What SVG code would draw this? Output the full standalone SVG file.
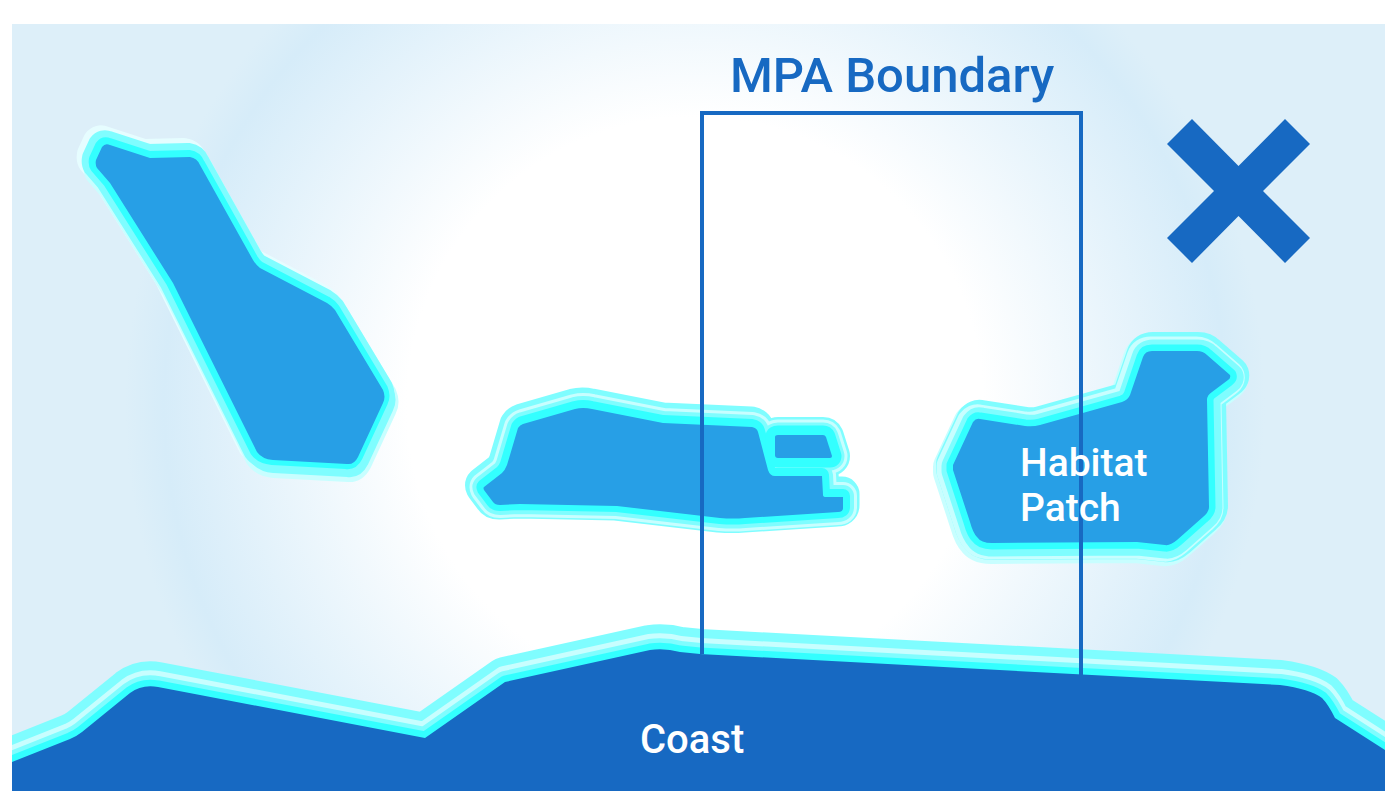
<svg xmlns="http://www.w3.org/2000/svg" width="1385" height="791" viewBox="0 0 1385 791">
<style>
.t{font-family:Roboto,"Liberation Sans",sans-serif;font-weight:500;fill:#fff;font-size:39px}
.a{fill:#e6fdff;stroke:#e6fdff;stroke-linejoin:round;stroke-linecap:round}
.b{fill:#c8feff;stroke:#c8feff;stroke-linejoin:round;stroke-linecap:round}
.c{fill:#7ffdff;stroke:#7ffdff;stroke-linejoin:round;stroke-linecap:round}
.d{fill:#33ffff;stroke:#33ffff;stroke-linejoin:round;stroke-linecap:round}
.h{fill:#279fe6}
.k{fill:#1769c2}
</style>
<defs>
<radialGradient id="sea" gradientUnits="userSpaceOnUse" cx="695" cy="405" r="600">
<stop offset="0" stop-color="#fff"/>
<stop offset=".48" stop-color="#fff"/>
<stop offset=".885" stop-color="#d6ecf9"/>
<stop offset=".95" stop-color="#ddeff9"/>
<stop offset="1" stop-color="#ddeff9"/>
</radialGradient>
<path id="p1" d="M102 147Q105 143 110 145L150 158L190 157Q197 158 200 165L253 260Q256 265 260 268L327 303Q332 306 335 310L383 390Q386 397 383 403L358 457Q354 465 347 464L273 460Q262 459 257 452L173 283L110 183L97 168Q95 165 96 160Z"/>
<path id="p2" d="M484 487L502 473Q505 470 507 465L518 428Q520 425 523 424L575 409Q583 407 592 409L663 423L752 427Q757 428 758 432L768 470Q770 476 775 476L822 476L823 495Q823 497 826 497L843 497L843 508Q843 512 838 512L745 518Q733 519 720 518L617 506L520 504L500 505Q495 505 493 502L484 490Q483 488 484 487Z"/>
<path id="p2b" d="M775 437Q775 435 778 435L823 435Q825 435 826 437L832 456Q832 458 830 458L778 458Q775 458 775 455Z"/>
<path id="p3" d="M953 465L973 422Q976 418 980 419L1025 426Q1033 427 1040 425L1122 402Q1128 400 1130 395L1143 357Q1145 351 1152 351L1197 351Q1203 351 1207 355L1230 375Q1231 378 1228 380L1212 392Q1207 395 1207 400L1209 507Q1209 512 1203 517L1177 540Q1170 546 1165 545L1137 542L992 543Q981 543 977 537Q973 533 970 522L953 470Z"/>
<path id="p4" d="M12 762L70 739Q77 736 82 732L130 693Q142 684 158 687L200 695L425 738L505 682L650 650Q665 648 680 652L700 654L1280 685Q1310 689 1322 698Q1328 704 1335 718L1385 750L1385 791L12 791Z"/>
<clipPath id="frame"><rect x="12" y="24" width="1373" height="767"/></clipPath>
</defs>
<rect id="sea-bg" x="12" y="24" width="1373" height="767" fill="url(#sea)"/>
<g id="patch-west">
<use href="#p1" class="a" stroke-width="26" transform="translate(-6,-6)"/>
<use href="#p1" class="b" stroke-width="26" transform="translate(1,5)"/>
<use href="#p1" class="c" stroke-width="24" transform="translate(-2,-2)"/>
<use href="#p1" class="c" stroke-width="20" transform="translate(1,3)"/>
<use href="#p1" class="d" stroke-width="12" transform="translate(-1,-1)"/>
<use href="#p1" class="h"/>
</g>
<g id="patch-central">
<use href="#p2" class="c" stroke-width="35" transform="translate(-1,-3)"/>
<use href="#p2b" class="c" stroke-width="36"/>
<use href="#p2" class="b" stroke-width="28" transform="translate(0,-1)"/>
<use href="#p2b" class="b" stroke-width="31"/>
<use href="#p2" class="c" stroke-width="22" transform="translate(0,-1)"/>
<use href="#p2b" class="c" stroke-width="25"/>
<use href="#p2" class="d" stroke-width="14" transform="translate(0,-1)"/>
<use href="#p2b" class="d" stroke-width="19"/>
<use href="#p2" class="h"/>
<use href="#p2b" class="h"/>
</g>
<g id="patch-east">
<use href="#p3" class="b" stroke-width="38" transform="translate(-1,2)"/>
<use href="#p3" class="c" stroke-width="36" transform="translate(1,-1)"/>
<use href="#p3" class="b" stroke-width="31" transform="translate(-1,1)"/>
<use href="#p3" class="c" stroke-width="25" transform="translate(1,1)"/>
<use href="#p3" class="d" stroke-width="13"/>
<use href="#p3" class="h"/>
</g>
<g id="coast" clip-path="url(#frame)">
<use href="#p4" class="c" stroke-width="46" transform="translate(0,-2)"/>
<use href="#p4" class="b" stroke-width="28" transform="translate(0,-2)"/>
<use href="#p4" class="c" stroke-width="22"/>
<use href="#p4" class="d" stroke-width="13"/>
<use href="#p4" class="k"/>
</g>
<g id="mpa-boundary">
<path d="M702 654V113H1081V676" fill="none" stroke="#1769c2" stroke-width="4"/>
<text class="t" x="730" y="92" style="fill:#1769c2;font-size:49px">MPA Boundary</text>
</g>
<g id="labels">
<text class="t" x="1020" y="476">Habitat</text>
<text class="t" x="1020" y="521">Patch</text>
<text class="t" x="640" y="753" style="font-size:40px">Coast</text>
</g>
<polygon id="close-mark" class="k" points="1192,119 1238.5,166 1285,119 1310,144 1263,191 1310,238 1285,263 1238.5,216 1192,263 1167,238 1214,191 1167,144"/>
</svg>
